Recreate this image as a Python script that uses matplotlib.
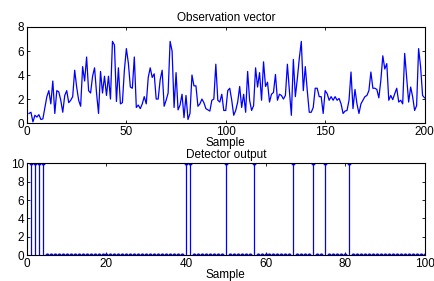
import numpy as np
import matplotlib
matplotlib.use('Agg')
import matplotlib.pyplot as plt

plt.rcParams['font.family'] = ['Liberation Sans', 'DejaVu Sans']

# --- observation vector (200 samples) ---
obs = [0.8, 0.9, 0.1, 0.65, 0.5, 0.7, 0.3, 0.35, 1.3, 2.2,
       2.7, 1.6, 3.5, 0.8, 2.7, 2.6, 1.9, 0.9, 2.3, 2.7,
       1.7, 1.9, 2.2, 4.4, 3.0, 1.9, 1.4, 4.7, 3.5, 5.5,
       2.7, 2.5, 3.9, 4.6, 2.5, 0.8, 4.3, 2.5, 3.9, 2.3,
       3.9, 2.0, 6.8, 6.5, 1.8, 4.6, 1.6, 1.7, 4.4, 6.2,
       5.0, 3.0, 2.9, 5.5, 1.3, 1.5, 1.2, 1.6, 2.2, 1.6,
       3.8, 4.6, 3.8, 4.1, 2.0, 2.0, 3.6, 4.4, 1.4, 1.9,
       2.5, 6.8, 6.0, 1.3, 4.2, 1.1, 1.5, 2.4, 0.45, 2.3,
       0.3, 0.8, 4.0, 3.1, 3.1, 1.4, 1.6, 2.0, 1.7, 1.2,
       1.1, 1.0, 1.9, 2.0, 4.9, 1.9, 1.75, 2.4, 1.05, 1.05,
       2.7, 2.9, 1.9, 0.65, 1.05, 1.75, 3.05, 1.3, 2.4, 0.9,
       4.3, 1.9, 1.05, 1.45, 4.6, 3.0, 4.2, 1.9, 5.1, 3.05,
       3.4, 1.75, 2.4, 2.55, 4.05, 1.9, 2.4, 2.3, 2.0, 2.3,
       4.9, 2.7, 0.65, 5.3, 2.2, 3.7, 5.4, 6.8, 2.7, 4.7,
       2.7, 0.9, 0.9, 1.3, 2.9, 2.9, 2.2, 2.2, 0.8, 2.7,
       2.45, 1.9, 2.2, 1.9, 2.2, 1.9, 2.05, 1.6, 0.8, 1.0,
       1.05, 1.9, 4.25, 1.2, 2.8, 1.6, 0.8, 1.6, 1.9, 2.2,
       2.3, 2.7, 4.25, 2.9, 2.9, 2.8, 2.1, 3.55, 5.6, 4.5,
       4.95, 1.9, 2.3, 1.95, 2.45, 2.9, 1.75, 1.9, 1.6, 5.8,
       3.8, 1.75, 3.0, 2.2, 1.05, 1.45, 6.2, 4.7, 2.3, 2.1]
obs_x = np.arange(1, len(obs) + 1)

# --- detector output (100 samples, 10 where detected) ---
det_x = np.arange(1, 101)
det_hits = [1, 2, 3, 4, 40, 41, 50, 57, 67, 72, 75, 81]
det = np.zeros(100)
det[np.array(det_hits) - 1] = 10

fig = plt.figure(figsize=(4.35, 2.81), dpi=100)
ax1 = fig.add_axes([0.062, 0.562, 0.914, 0.342])
ax2 = fig.add_axes([0.062, 0.092, 0.914, 0.327])

fs = 8.5

ax1.plot(obs_x, obs, color='#0000ff', lw=0.9)
ax1.set_xlim(0, 200)
ax1.set_ylim(0, 8)
ax1.set_xticks([0, 50, 100, 150, 200])
ax1.set_yticks([0, 2, 4, 6, 8])
ax1.set_title('Observation vector', fontsize=fs, pad=4)
ax1.set_xlabel('Sample', fontsize=fs, labelpad=-0.5)

markerline, stemlines, baseline = ax2.stem(det_x, det, basefmt=' ')
plt.setp(stemlines, color='#0000ff', lw=0.9)
plt.setp(markerline, color='#0000ff', marker='.', markersize=4)
ax2.set_xlim(0, 100)
ax2.set_ylim(0, 10)
ax2.set_xticks([0, 20, 40, 60, 80, 100])
ax2.set_yticks([0, 2, 4, 6, 8, 10])
ax2.set_title('Detector output', fontsize=fs, pad=4)
ax2.set_xlabel('Sample', fontsize=fs, labelpad=-1)

for ax in (ax1, ax2):
    ax.tick_params(direction='in', length=2.5, width=0.6, labelsize=fs,
                   top=True, right=True, pad=2)
    for s in ax.spines.values():
        s.set_linewidth(0.8)

fig.savefig('out.png', dpi=100)
